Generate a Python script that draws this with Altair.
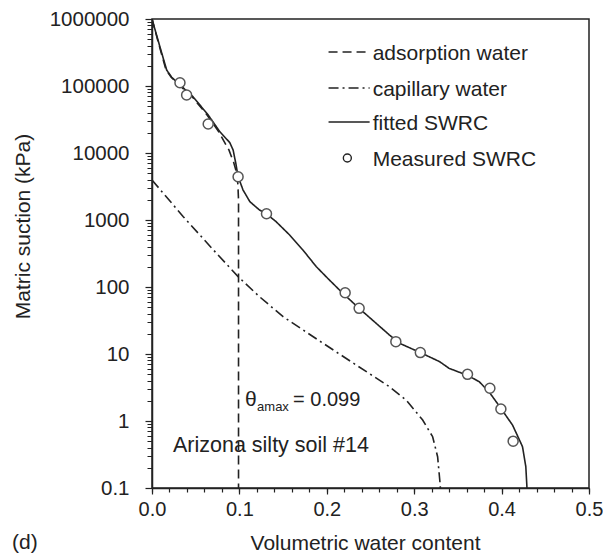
import altair as alt
import pandas as pd

# ---------------- data ----------------
series_names = ["adsorption water", "capillary water", "fitted SWRC"]

fit_theta = [0.000, 0.009, 0.0168, 0.0225, 0.032, 0.047, 0.0643, 0.0776, 0.089, 0.0928,
             0.0959, 0.0985, 0.1042, 0.112, 0.123, 0.131, 0.142, 0.1575, 0.1727, 0.188,
             0.203, 0.2184, 0.237, 0.2717, 0.283, 0.307, 0.329, 0.340, 0.361, 0.3744,
             0.3858, 0.3992, 0.406, 0.4125, 0.4175, 0.4239, 0.4277, 0.4289, 0.429]
fit_psi = [1000000, 387000, 173000, 135000, 104000, 69000, 36900, 20800, 14300, 11100,
           7000, 4430, 2800, 1875, 1410, 1230, 944, 597, 356, 201,
           127, 80.5, 48, 19.2, 14.5, 10.5, 7.7, 6.1, 4.8, 3.86,
           2.7, 1.55, 1.15, 0.87, 0.63, 0.414, 0.209, 0.108, 0.1]

ads_theta = [0.000, 0.0085, 0.016, 0.022, 0.031, 0.046, 0.063, 0.076, 0.088, 0.0935,
             0.0962, 0.0982, 0.099, 0.099]
ads_psi = [1000000, 390000, 175000, 135000, 104000, 69000, 37000, 21000, 11100, 7200,
           5400, 3500, 2000, 0.1]

cap_theta = [0.000, 0.0358, 0.0738, 0.0985, 0.123, 0.150, 0.1956, 0.2336, 0.2717, 0.2907,
             0.3097, 0.3211, 0.3268, 0.3296, 0.330]
cap_psi = [3950, 1120, 318, 143, 71.6, 36, 14.5, 6.85, 3.25, 2.06,
           1.035, 0.583, 0.293, 0.117, 0.1]

meas_theta = [0.032, 0.0396, 0.0643, 0.0985, 0.131, 0.221, 0.237, 0.279, 0.307,
              0.361, 0.3866, 0.3992, 0.4132]
meas_psi = [112000, 73400, 27100, 4430, 1240, 82, 48, 15.3, 10.5,
            4.97, 3.08, 1.51, 0.50]

x_ticks = [0.0, 0.1, 0.2, 0.3, 0.4, 0.5]
y_ticks = [0.1, 1, 10, 100, 1000, 10000, 100000, 1000000]
x_minor = [round(i * 0.02, 2) for i in range(26)]
y_minor = [m * 10 ** e for e in range(-1, 6) for m in range(2, 10)]

# legend entries (placed inside the plot, in data units)
legend_labels = ["adsorption water", "capillary water", "fitted SWRC", "Measured SWRC"]
legend_psi = [321000, 93300, 29000, 8410]
legend_sym_x1 = 0.202
legend_sym_x2 = 0.249
legend_circle_x = 0.2235
legend_text_x = 0.2525

# ---------------- tables ----------------
rows = []
for name, th, ps in zip(series_names, [ads_theta, cap_theta, fit_theta],
                        [ads_psi, cap_psi, fit_psi]):
    for i, (t, p) in enumerate(zip(th, ps)):
        rows.append({"series": name, "theta": t, "psi": p, "order": i})
lines_df = pd.DataFrame(rows)
meas_df = pd.DataFrame({"theta": meas_theta, "psi": meas_psi})

leg_lines_df = pd.DataFrame({"series": series_names,
                             "x1": [legend_sym_x1] * 3, "x2": [legend_sym_x2] * 3,
                             "psi": legend_psi[:3]})
leg_pt_df = pd.DataFrame({"theta": [legend_circle_x], "psi": [legend_psi[3]]})
leg_txt_df = pd.DataFrame({"theta": [legend_text_x] * 4, "psi": legend_psi,
                           "label": legend_labels})

FONT = "Liberation Sans"
INK = "#222222"

xscale = alt.Scale(domain=[0, 0.5], nice=False, zero=False)
yscale = alt.Scale(type="log", domain=[0.1, 1000000], nice=False)
dash_scale = alt.Scale(domain=series_names, range=[[9, 5], [10, 4, 2, 4], [1, 0]])

x_axis = alt.Axis(values=x_ticks, format=".1f", grid=False, tickSize=6, tickWidth=1.2,
                  tickColor=INK, domainColor=INK, domainWidth=1.5, labelPadding=5,
                  labelFont=FONT, labelFontSize=20, labelColor=INK, labelFlush=False,
                  labelOverlap=False, title="Volumetric water content", titleFont=FONT,
                  titleFontSize=21, titleFontWeight="normal", titleColor=INK,
                  titleX=213, titleY=61, titleBaseline="alphabetic", titleAlign="center",
                  orient="bottom")
y_axis = alt.Axis(values=y_ticks, format=".1~f", grid=False, tickSize=7, tickWidth=1.2,
                  tickColor=INK, domainColor=INK, domainWidth=1.5, labelPadding=16,
                  labelFont=FONT, labelFontSize=20.5, labelColor=INK, labelFlush=False,
                  labelOverlap=False, title="Matric suction (kPa)", titleFont=FONT,
                  titleFontSize=21, titleFontWeight="normal", titleColor=INK,
                  titleX=-129, titleY=207, titleAngle=270, titleAlign="center",
                  titleBaseline="middle", orient="left")
x_axis_minor = alt.Axis(values=x_minor, labels=False, domain=False, grid=False, tickSize=4,
                        tickWidth=1.2, tickColor=INK, title="", orient="bottom")
y_axis_minor = alt.Axis(values=y_minor, labels=False, domain=False, grid=False, tickSize=5,
                        tickWidth=1.0, tickColor=INK, title="", orient="left")


def X(axis=None, field="theta:Q"):
    if axis is None:
        return alt.X(field, scale=xscale, axis=None)
    return alt.X(field, scale=xscale, axis=axis)


def Y(axis=None, field="psi:Q"):
    if axis is None:
        return alt.Y(field, scale=yscale, axis=None)
    return alt.Y(field, scale=yscale, axis=axis)


lines = alt.Chart(lines_df).mark_line(color=INK, strokeWidth=1.6, clip=True).encode(
    x=X(x_axis),
    y=Y(y_axis),
    strokeDash=alt.StrokeDash("series:N", scale=dash_scale, legend=None),
    order=alt.Order("order:Q"),
)

points = alt.Chart(meas_df).mark_point(filled=True, fill="white", stroke="#555555",
                                       strokeWidth=1.5, size=100, opacity=1,
                                       shape="circle").encode(
    x=X(x_axis_minor),
    y=Y(y_axis_minor),
)

leg_lines = alt.Chart(leg_lines_df).mark_rule(color=INK, strokeWidth=1.6).encode(
    x=X(field="x1:Q"),
    x2="x2:Q",
    y=Y(),
    strokeDash=alt.StrokeDash("series:N", scale=dash_scale, legend=None),
)
leg_pt = alt.Chart(leg_pt_df).mark_point(filled=True, fill="white", stroke=INK,
                                         strokeWidth=1.4, size=64, opacity=1,
                                         shape="circle").encode(x=X(), y=Y())
leg_txt = alt.Chart(leg_txt_df).mark_text(align="left", baseline="middle", font=FONT,
                                          fontSize=21, color=INK, dy=2).encode(
    x=X(), y=Y(), text="label:N")

ann_df = pd.DataFrame({"theta": [0.024], "psi": [0.344], "label": ["Arizona silty soil #14"]})
soil = alt.Chart(ann_df).mark_text(align="left", baseline="alphabetic", font=FONT,
                                   fontSize=21.5, color=INK).encode(
    x=X(), y=Y(), text="label:N")

th_df = pd.DataFrame({"theta": [0.1065], "psi": [1.67], "a": ["θ"], "b": ["amax"],
                      "c": ["= 0.099"]})
th_base = alt.Chart(th_df).encode(x=X(), y=Y())
th1 = th_base.mark_text(align="left", baseline="alphabetic", font=FONT, fontSize=21,
                        color=INK).encode(text="a:N")
th2 = th_base.mark_text(align="left", baseline="alphabetic", font=FONT, fontSize=13,
                        color=INK, dx=12, dy=5).encode(text="b:N")
th3 = th_base.mark_text(align="left", baseline="alphabetic", font=FONT, fontSize=20,
                        color=INK, dx=48).encode(text="c:N")

d_df = pd.DataFrame({"label": ["(d)"]})
dlab = alt.Chart(d_df).mark_text(align="left", baseline="alphabetic", font=FONT,
                                 fontSize=21, color=INK).encode(
    x=alt.value(-140), y=alt.value(530), text="label:N")

chart = alt.layer(lines, points, leg_lines, leg_pt, leg_txt, soil, th1, th2, th3,
                  dlab).resolve_axis(
    x="independent", y="independent"
).properties(
    width=437, height=469,
    autosize=alt.AutoSizeParams(type="none"),
    padding={"left": 152, "top": 19, "right": 14, "bottom": 68},
    background="white",
).configure_view(stroke=INK, strokeWidth=1.5)

chart.save("out.html", embed_options={"renderer": "svg", "actions": False})
